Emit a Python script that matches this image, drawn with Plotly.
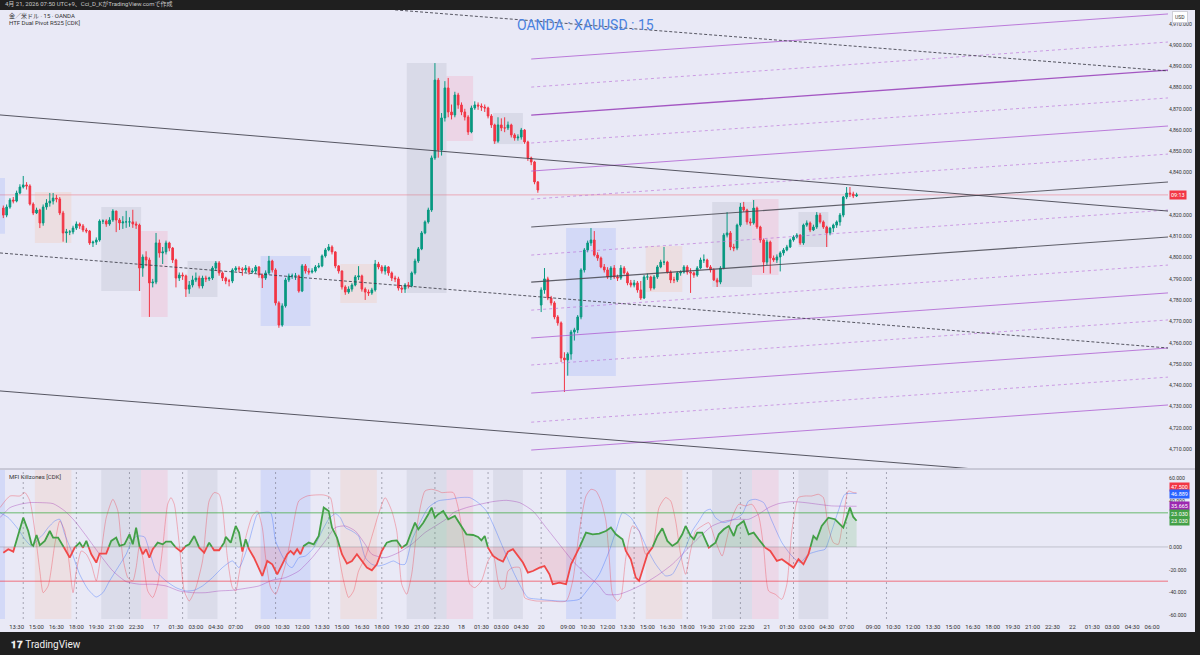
import plotly.graph_objects as go

# ---------------- candle data (15-minute bars, index 0 = Apr16 13:30 JST) ----------------
first_bar = -4
opens_pre = [4823.3, 4820.0, 4823.8, 4827.1, 4826.6, 4830.4, 4833.2, 4834.2, 4833.7, 4825.2,
             4821.0, 4822.4, 4816.3, 4823.8, 4825.7, 4826.6, 4828.0, 4827.6, 4821.0, 4811.6,
             4812.1, 4812.1, 4813.9, 4815.8, 4814.9, 4813.0, 4812.5, 4806.9, 4807.3, 4808.3,
             4817.2, 4817.2, 4815.8, 4817.7, 4821.9, 4817.7, 4816.3, 4816.8, 4816.8, 4816.8,
             4815.8, 4815.3, 4795.1, 4800.3, 4798.9, 4788.1, 4788.5, 4806.9, 4802.2, 4802.7,
             4806.9, 4804.5, 4798.9, 4790.4, 4791.8, 4791.4, 4785.2, 4787.1, 4789.5, 4790.4,
             4786.7, 4790.4, 4790.0, 4790.4, 4795.1, 4797.5, 4792.8, 4790.4, 4789.0, 4789.0,
             4794.2, 4795.1, 4794.7, 4794.2, 4795.1, 4793.2, 4793.7, 4795.6, 4791.8, 4790.4,
             4792.8, 4798.4, 4794.2, 4778.7, 4768.3, 4777.3, 4789.5, 4791.4, 4791.4, 4791.4,
             4784.3, 4796.1, 4793.7, 4793.2, 4793.7, 4795.6, 4796.1, 4800.8, 4803.6, 4805.0,
             4802.7, 4796.1, 4793.7, 4786.2, 4783.8, 4785.2, 4787.1, 4790.9, 4791.4, 4785.2,
             4783.8, 4783.4, 4784.8, 4797.0, 4795.6, 4793.7, 4795.6, 4792.8, 4790.4, 4790.0,
             4785.7, 4785.2, 4787.1, 4786.7, 4792.8, 4798.4, 4804.1, 4811.6, 4816.8, 4822.4,
             4846.9, 4883.5, 4850.6, 4865.7, 4879.8, 4868.5, 4867.1, 4876.5, 4871.8, 4868.5,
             4866.1, 4859.1, 4870.4, 4871.8, 4871.3, 4870.8, 4870.4, 4866.6, 4862.4, 4854.8,
             4862.4, 4861.0, 4861.0, 4862.4, 4857.7, 4856.3, 4856.7, 4860.0, 4854.4, 4846.9,
             4845.0, 4835.6]
highs_pre = [4824.5, 4825.0, 4828.0, 4828.5, 4831.5, 4834.5, 4838.4, 4835.5, 4834.5, 4826.0,
             4823.5, 4823.0, 4825.0, 4827.5, 4830.4, 4830.4, 4829.5, 4828.5, 4822.0, 4813.5,
             4813.0, 4815.0, 4817.0, 4816.5, 4815.8, 4814.0, 4813.0, 4808.0, 4809.5, 4818.0,
             4818.0, 4818.0, 4819.0, 4822.8, 4822.0, 4818.6, 4819.5, 4822.0, 4819.0, 4822.5,
             4817.0, 4816.0, 4801.5, 4803.0, 4800.0, 4790.0, 4811.6, 4808.5, 4805.0, 4808.0,
             4807.5, 4805.0, 4799.5, 4793.0, 4793.0, 4792.0, 4789.0, 4791.5, 4793.0, 4791.5,
             4791.5, 4791.5, 4791.0, 4796.0, 4798.4, 4798.4, 4793.5, 4791.0, 4790.0, 4795.0,
             4796.0, 4796.0, 4795.5, 4796.5, 4796.0, 4795.0, 4796.5, 4796.0, 4792.5, 4794.0,
             4800.8, 4799.0, 4795.0, 4779.5, 4778.5, 4790.5, 4792.5, 4792.5, 4792.8, 4792.0,
             4797.0, 4797.0, 4795.0, 4795.0, 4796.5, 4797.5, 4801.5, 4804.5, 4806.4, 4805.8,
             4803.0, 4796.5, 4794.0, 4787.0, 4786.5, 4788.0, 4791.8, 4796.0, 4792.0, 4786.0,
             4785.0, 4785.8, 4798.9, 4798.0, 4796.5, 4796.5, 4796.0, 4793.5, 4791.5, 4791.0,
             4787.0, 4788.0, 4788.5, 4793.5, 4799.5, 4805.0, 4812.5, 4817.5, 4823.5, 4848.0,
             4891.5, 4884.5, 4868.0, 4883.0, 4884.5, 4872.0, 4878.0, 4877.5, 4873.0, 4870.0,
             4867.0, 4871.5, 4873.5, 4873.0, 4872.5, 4872.0, 4871.0, 4867.5, 4863.0, 4866.0,
             4865.5, 4866.0, 4864.0, 4863.0, 4858.5, 4858.0, 4861.0, 4860.5, 4855.0, 4847.5,
             4845.5, 4836.0]
lows_pre = [4818.6, 4819.0, 4823.0, 4825.5, 4826.0, 4829.8, 4832.5, 4832.0, 4824.5, 4820.0,
            4820.5, 4813.9, 4815.0, 4822.5, 4824.0, 4825.0, 4826.0, 4820.0, 4807.5, 4807.0,
            4810.6, 4811.0, 4813.0, 4813.5, 4812.0, 4811.5, 4806.0, 4805.0, 4806.0, 4807.5,
            4815.8, 4814.5, 4815.0, 4816.8, 4812.0, 4813.0, 4813.5, 4814.0, 4814.5, 4814.0,
            4813.5, 4784.3, 4791.0, 4796.0, 4772.1, 4786.0, 4787.5, 4800.0, 4797.0, 4801.5,
            4803.0, 4797.5, 4786.0, 4789.0, 4789.5, 4781.5, 4783.0, 4786.0, 4788.5, 4785.5,
            4785.5, 4788.5, 4789.0, 4789.5, 4794.0, 4791.5, 4789.0, 4787.5, 4786.5, 4788.0,
            4793.5, 4793.0, 4791.5, 4793.0, 4792.0, 4792.5, 4792.5, 4790.5, 4785.7, 4789.5,
            4792.0, 4793.0, 4777.5, 4767.0, 4767.5, 4776.5, 4788.5, 4790.0, 4789.5, 4783.5,
            4783.8, 4792.5, 4792.0, 4792.5, 4793.0, 4795.0, 4795.5, 4800.0, 4803.0, 4801.5,
            4795.0, 4792.5, 4785.0, 4782.5, 4783.0, 4784.0, 4786.5, 4789.5, 4784.0, 4780.1,
            4782.0, 4782.5, 4784.0, 4794.5, 4792.5, 4792.0, 4791.5, 4789.0, 4788.5, 4784.5,
            4783.4, 4783.4, 4785.5, 4786.0, 4792.0, 4797.5, 4803.5, 4811.0, 4816.0, 4821.5,
            4846.0, 4847.0, 4848.0, 4864.0, 4866.0, 4865.0, 4866.0, 4870.0, 4867.0, 4864.5,
            4857.7, 4858.5, 4869.5, 4869.5, 4869.0, 4868.5, 4865.5, 4861.0, 4853.5, 4854.0,
            4859.5, 4859.0, 4860.0, 4856.5, 4855.0, 4855.0, 4855.5, 4853.5, 4845.5, 4843.5,
            4834.5, 4830.5]
closes_pre = [4820.0, 4823.8, 4827.1, 4826.6, 4830.4, 4833.2, 4834.2, 4833.7, 4825.2, 4821.0,
              4822.4, 4816.3, 4823.8, 4825.7, 4826.6, 4828.0, 4827.6, 4821.0, 4811.6, 4812.1,
              4812.1, 4813.9, 4815.8, 4814.9, 4813.0, 4812.5, 4806.9, 4807.3, 4808.3, 4817.2,
              4817.2, 4815.8, 4817.7, 4821.9, 4817.7, 4816.3, 4816.8, 4816.8, 4816.8, 4815.8,
              4815.3, 4795.1, 4800.3, 4798.9, 4788.1, 4788.5, 4806.9, 4802.2, 4802.7, 4806.9,
              4804.5, 4798.9, 4790.4, 4791.8, 4791.4, 4785.2, 4787.1, 4789.5, 4790.4, 4786.7,
              4790.4, 4790.0, 4790.4, 4795.1, 4797.5, 4792.8, 4790.4, 4789.0, 4789.0, 4794.2,
              4795.1, 4794.7, 4794.2, 4795.1, 4793.2, 4793.7, 4795.6, 4791.8, 4790.4, 4792.8,
              4798.4, 4794.2, 4778.7, 4768.3, 4777.3, 4789.5, 4791.4, 4791.4, 4791.4, 4784.3,
              4796.1, 4793.7, 4793.2, 4793.7, 4795.6, 4796.1, 4800.8, 4803.6, 4805.0, 4802.7,
              4796.1, 4793.7, 4786.2, 4783.8, 4785.2, 4787.1, 4790.9, 4791.4, 4785.2, 4783.8,
              4783.4, 4784.8, 4797.0, 4795.6, 4793.7, 4795.6, 4792.8, 4790.4, 4790.0, 4785.7,
              4785.2, 4787.1, 4786.7, 4792.8, 4798.4, 4804.1, 4811.6, 4816.8, 4822.4, 4846.9,
              4883.5, 4850.6, 4865.7, 4879.8, 4868.5, 4867.1, 4876.5, 4871.8, 4868.5, 4866.1,
              4859.1, 4870.4, 4871.8, 4871.3, 4870.8, 4870.4, 4866.6, 4862.4, 4854.8, 4862.4,
              4861.0, 4861.0, 4862.4, 4857.7, 4856.3, 4856.7, 4860.0, 4854.4, 4846.9, 4845.0,
              4835.6, 4831.8]

opens_mon = [4777.7, 4784.8, 4790.0, 4781.0, 4778.7, 4772.1, 4769.3, 4752.8, 4751.9, 4754.7,
             4765.0, 4766.0, 4772.1, 4794.2, 4803.6, 4806.9, 4808.3, 4801.2, 4799.8, 4795.6,
             4794.2, 4790.9, 4795.1, 4790.9, 4790.4, 4795.1, 4792.8, 4788.1, 4787.1, 4788.1,
             4784.8, 4781.0, 4790.9, 4790.9, 4785.7, 4790.9, 4795.6, 4797.9, 4797.9, 4793.2,
             4789.5, 4789.5, 4792.8, 4793.2, 4795.6, 4793.2, 4792.8, 4791.8, 4795.1, 4798.9,
             4798.9, 4795.6, 4794.2, 4789.5, 4788.5, 4795.1, 4810.6, 4811.6, 4805.0, 4804.5,
             4815.3, 4823.8, 4822.4, 4816.8, 4816.3, 4823.3, 4814.4, 4808.3, 4797.9, 4807.3,
             4799.8, 4798.9, 4800.3, 4802.2, 4803.6, 4805.0, 4808.3, 4809.7, 4810.6, 4806.9,
             4815.3, 4816.3, 4813.0, 4814.4, 4820.0, 4816.8, 4814.4, 4811.6, 4813.9, 4815.3,
             4816.8, 4820.0, 4828.5, 4830.4, 4829.9, 4829.0]
highs_mon = [4786.0, 4795.1, 4791.0, 4782.0, 4779.5, 4773.0, 4770.0, 4755.5, 4755.5, 4766.0,
             4767.0, 4773.0, 4795.0, 4804.5, 4808.0, 4813.9, 4812.5, 4802.5, 4800.5, 4797.0,
             4795.5, 4796.0, 4796.5, 4792.0, 4796.5, 4796.0, 4793.5, 4789.5, 4789.5, 4789.0,
             4789.0, 4791.8, 4792.5, 4791.5, 4791.8, 4796.5, 4799.0, 4805.0, 4798.5, 4794.0,
             4791.0, 4793.5, 4794.0, 4796.5, 4796.5, 4795.0, 4793.5, 4796.0, 4800.0, 4801.5,
             4799.5, 4796.5, 4795.0, 4790.5, 4796.0, 4811.5, 4821.4, 4812.5, 4806.5, 4816.0,
             4825.7, 4826.2, 4823.0, 4818.5, 4827.1, 4824.0, 4815.0, 4809.0, 4808.5, 4808.0,
             4801.0, 4801.5, 4803.0, 4804.5, 4806.0, 4809.0, 4810.5, 4811.5, 4811.0, 4816.0,
             4817.5, 4817.0, 4815.5, 4821.4, 4821.0, 4817.5, 4815.0, 4814.5, 4816.0, 4817.5,
             4821.0, 4829.0, 4833.2, 4833.2, 4831.0, 4830.5]
lows_mon = [4774.4, 4783.0, 4780.0, 4777.5, 4771.0, 4768.0, 4750.9, 4736.8, 4744.5, 4752.0,
            4761.0, 4764.5, 4771.0, 4793.0, 4802.5, 4805.5, 4800.5, 4798.5, 4795.0, 4793.0,
            4790.0, 4789.5, 4790.0, 4789.0, 4789.5, 4792.0, 4787.0, 4786.0, 4786.0, 4783.5,
            4780.1, 4780.5, 4789.5, 4784.5, 4785.0, 4790.0, 4795.0, 4796.5, 4792.5, 4788.0,
            4788.0, 4788.5, 4791.5, 4792.5, 4792.0, 4783.4, 4790.5, 4791.0, 4794.5, 4797.5,
            4795.0, 4793.0, 4789.0, 4786.2, 4787.5, 4794.5, 4809.5, 4803.5, 4803.0, 4803.5,
            4814.5, 4821.5, 4815.5, 4815.0, 4815.5, 4813.5, 4807.0, 4792.8, 4796.5, 4792.5,
            4798.0, 4797.5, 4793.5, 4801.0, 4803.0, 4804.5, 4807.5, 4809.0, 4806.0, 4806.0,
            4814.5, 4812.0, 4812.5, 4813.5, 4816.0, 4813.5, 4805.0, 4810.5, 4812.0, 4814.0,
            4815.0, 4819.0, 4827.5, 4828.5, 4828.0, 4828.5]
closes_mon = [4784.8, 4790.0, 4781.0, 4778.7, 4772.1, 4769.3, 4752.8, 4751.9, 4754.7, 4765.0,
              4766.0, 4772.1, 4794.2, 4803.6, 4806.9, 4808.3, 4801.2, 4799.8, 4795.6, 4794.2,
              4790.9, 4795.1, 4790.9, 4790.4, 4795.1, 4792.8, 4788.1, 4787.1, 4788.1, 4784.8,
              4781.0, 4790.9, 4790.9, 4785.7, 4790.9, 4795.6, 4797.9, 4797.9, 4793.2, 4789.5,
              4789.5, 4792.8, 4793.2, 4795.6, 4793.2, 4792.8, 4791.8, 4795.1, 4798.9, 4798.9,
              4795.6, 4794.2, 4789.5, 4788.5, 4795.1, 4810.6, 4811.6, 4805.0, 4804.5, 4815.3,
              4823.8, 4822.4, 4816.8, 4816.3, 4823.3, 4814.4, 4808.3, 4797.9, 4807.3, 4799.8,
              4798.9, 4800.3, 4802.2, 4803.6, 4805.0, 4808.3, 4809.7, 4810.6, 4806.9, 4815.3,
              4816.3, 4813.0, 4814.4, 4820.0, 4816.8, 4814.4, 4811.6, 4813.9, 4815.3, 4816.8,
              4820.0, 4828.5, 4830.4, 4829.9, 4829.0, 4829.5]

# ---------------- killzone sessions ----------------
session_start = [-20, 6, 26, 38, 52, 74, 98, 118, 130, 144, 166, 190, 210, 222, 236]
session_end = [-4, 16, 37, 45, 60, 88, 108, 129, 137, 152, 180, 200, 221, 229, 244]
session_high = [4837.4, 4830.9, 4823.8, 4812.5, 4798.4, 4800.8, 4797.0, 4891.5, 4885.4, 4868.0,
                4813.9, 4805.5, 4826.2, 4827.6, 4821.4]
session_low = [4811.2, 4806.9, 4784.3, 4772.1, 4781.5, 4767.8, 4778.7, 4783.4, 4854.8, 4853.4,
               4744.3, 4783.8, 4786.2, 4791.8, 4805.0]
session_kind = ["asia", "london", "nyam", "lunch", "nypm",
                "asia", "london", "nyam", "lunch", "nypm",
                "asia", "london", "nyam", "lunch", "nypm"]

# ---------------- trend / channel lines (bar index, price) ----------------
trend_x0 = [-5.0, -5.0, -5.0, 114.0]
trend_p0 = [4867.1, 4737.3, 4802.2, 4916.5]
trend_x1 = [346.8, 346.8, 346.8, 346.8]
trend_p1 = [4821.9, 4693.3, 4757.5, 4887.8]
trend_kind = ["solid", "solid", "dot", "dot"]

# HTF pivot levels (sloped), start at bar 155, end at right edge
pivot_x0 = 155.0
pivot_x1 = 346.8
pivot_start = [4893.4, 4880.2, 4867.0, 4853.9, 4840.7, 4827.5, 4814.4, 4801.2, 4788.5, 4775.3,
               4762.2, 4749.5, 4736.3, 4722.6, 4709.5]
pivot_end = [4914.6, 4901.4, 4888.2, 4875.1, 4861.9, 4848.7, 4835.6, 4822.4, 4809.7, 4796.5,
             4783.4, 4770.7, 4757.5, 4743.8, 4730.7]

# ---------------- MFI Killzones oscillator ----------------
mfi_idx = [-4, -2.5, -1, 0.5, 2, 3.5, 4.5, 5, 6, 7,
           8.5, 10, 11, 12.5, 14, 16, 17.5, 19, 20, 21,
           22.5, 24, 25, 27, 28.5, 30, 31, 32.5, 34, 35,
           36, 37, 38, 39, 40, 41, 42.5, 44, 45, 46.5,
           48, 49.5, 51, 52, 53.5, 55, 56.5, 58, 59.5, 61,
           62.5, 63, 64.5, 66, 67, 68, 69, 70, 71.5, 74,
           75.5, 77, 78.5, 80, 81.5, 82.5, 83.5, 84.5, 85.5, 86.5,
           88, 89.5, 91, 92.5, 94, 95, 96.5, 98, 99.5, 101,
           102.5, 104, 105.5, 107, 108.5, 110, 111.5, 113, 114.5, 116,
           117.5, 119, 120, 121, 122.5, 124, 125, 126, 127, 128.5,
           130, 132, 133.5, 135.5, 137.5, 139, 140, 141, 142, 143.5,
           145, 146.5, 148, 149.5, 151, 152.5, 154, 155.5, 157.5, 159,
           160.5, 161.5, 163.5, 165.5, 167, 169.5, 171.5, 173.5, 175.5, 177.5,
           179, 180.5, 182.5, 183.5, 185, 186.5, 187.5, 189, 190, 191.5,
           193, 194.5, 196, 197.5, 199, 200.5, 201.5, 203, 204, 205,
           206.5, 208.5, 210.5, 211.5, 213, 214.5, 216, 217, 219, 220.5,
           222, 223.5, 225.5, 227, 229, 230.5, 232.5, 234, 235.5, 237,
           238.5, 240, 241, 242.5, 244.5, 246.5, 249, 251, 252, 253]
mfi_val = [-5.0, -2.0, -4.1, 11.1, 25.7, 14.0, 2.3, 0.9, 10.5, 1.5,
           5.3, 14.0, 8.2, 8.2, 0.9, -9.4, -0.6, 3.8, -0.6, 5.3,
           -6.4, -13.7, -5.8, -5.8, 5.3, 8.2, 0.9, 2.3, 11.1, 2.3,
           17.0, 0.9, -6.4, -2.0, -9.4, -2.0, 3.8, 2.3, 4.7, 4.7,
           -0.6, -4.1, 0.9, 2.3, 9.6, -0.6, -5.0, 3.8, -2.9, -2.9,
           3.8, 8.8, 3.8, 18.4, 12.6, -4.1, 6.7, -2.0, -9.4, -25.4,
           -12.3, -15.2, -24.0, -15.2, -6.4, -3.5, -6.4, -2.0, -6.4, 0.9,
           3.8, 2.3, 9.6, 34.5, 31.6, 17.0, 8.2, -6.4, -14.6, -12.3,
           -6.4, -12.3, -18.1, -20.5, -15.2, -3.5, 3.8, 5.3, 5.8, -0.6,
           2.3, 14.0, 21.3, 15.5, 21.3, 28.7, 34.5, 25.7, 28.7, 31.6,
           24.3, 27.2, 19.9, 11.1, 10.5, 8.8, 5.8, 9.6, -0.6, -7.9,
           -10.8, -12.9, -4.1, -2.0, -7.9, -13.7, -22.5, -21.1, -18.1, -16.7,
           -24.0, -32.7, -31.3, -32.7, -15.2, -0.6, 12.6, 11.1, 11.7, 14.0,
           17.0, 11.1, 6.7, -3.5, -10.8, -26.9, -29.8, -15.2, -6.4, -0.6,
           9.6, 16.4, 5.3, 0.9, 3.8, 11.1, 18.4, 9.6, 6.7, 12.6,
           12.6, -0.6, 3.8, 11.1, 15.5, 18.4, 9.6, 18.4, 22.8, 11.1,
           12.6, 6.7, -0.6, -3.5, -12.3, -10.8, -15.2, -18.1, -10.8, -15.2,
           -6.4, 9.6, 6.7, 18.4, 25.7, 24.3, 17.0, 34.5, 26.3, 23.0]

fast_idx = [-5, -2, 1, 2.5, 4, 5.5, 7, 8, 9.5, 11.5,
            13, 14.5, 16, 17, 18, 19.5, 21, 22.5, 24, 25,
            27, 29, 30.5, 32, 33.5, 35, 36, 37, 38, 39.5,
            41, 42.5, 44, 45.5, 46.5, 47.5, 49, 50.5, 52, 54,
            56, 58, 59.5, 61, 62, 63.5, 65, 66, 67, 69,
            71, 72.5, 74, 75, 76.5, 78, 79.5, 81, 83, 85,
            87.5, 90, 92.5, 94.5, 95.5, 97, 98.5, 100, 101.5, 103,
            105, 107.5, 109, 111, 113, 114.5, 116, 117.5, 119, 121,
            123, 125, 127, 128, 131.5, 133, 135, 136.5, 138, 140,
            142, 143.5, 145, 146, 147, 148, 149.5, 151.5, 153, 154,
            156.5, 160.5, 165.5, 167.5, 169.5, 171.5, 173, 174.5, 176, 177.5,
            178.5, 179.5, 181, 182, 183.5, 185.5, 187.5, 189.5, 191.5, 193.5,
            195.5, 197, 198.5, 200, 201.5, 203, 204.5, 206.5, 208.5, 210.5,
            212.5, 214, 215.5, 217.5, 219.5, 221.5, 223.5, 225, 226.5, 228.5,
            230.5, 232, 233.5, 235.5, 237.5, 239.5, 241.5, 243, 244.5, 246,
            247.5, 249, 250.5, 252, 253]
fast_val = [34.5, 44.7, 44.7, 47.7, 40.4, 14.0, -21.1, -40.1, -34.2, 2.3,
            22.8, 14.0, -18.1, -40.1, -21.1, -3.5, -6.4, -15.2, -29.8, -15.2,
            25.7, 41.8, 31.6, -9.4, -26.9, -29.8, -18.1, 0.9, -9.4, -38.6,
            -44.4, -32.7, -0.6, 37.4, 43.3, 37.4, 2.3, -38.6, -47.4, -35.7,
            -12.3, 40.4, 47.7, 46.2, 34.5, -9.4, -35.7, -38.6, -24.0, 8.2,
            27.2, 31.6, 17.0, -9.4, -35.7, -41.5, -29.8, -15.2, 14.0, 40.4,
            44.7, 45.6, 45.6, 43.3, 28.7, -6.4, -29.8, -44.4, -38.6, -21.1,
            -9.4, 14.0, 28.7, 43.3, 31.6, 14.0, -32.7, -41.5, -24.0, 25.7,
            49.1, 50.6, 49.1, 47.7, 47.7, 34.5, -0.6, -32.7, -35.7, -29.8,
            -12.3, -6.4, -29.8, -37.1, -35.7, -21.1, -18.1, -18.1, -44.4, -45.9,
            -47.4, -47.4, -47.4, -29.8, 14.0, 44.7, 50.6, 49.1, 40.4, 22.8,
            -9.4, -41.5, -47.4, -44.4, -9.4, 18.4, 14.0, -6.4, -0.6, 34.5,
            43.3, 40.4, 22.8, -6.4, -24.0, -3.5, 14.0, 18.4, 21.3, 5.3,
            -7.9, 8.2, 25.7, 37.4, 36.0, 37.4, 27.2, -0.6, -38.6, -41.5,
            -45.9, -32.7, 14.0, 43.3, 44.7, 44.7, 46.2, 43.3, 17.0, 3.8,
            2.3, 25.7, 49.1, 47.7, 47.5]

mid_idx = [-5, -2.5, 0.5, 2.5, 4.5, 6.5, 8, 9.5, 11.5, 13,
           14.5, 16.5, 19, 21.5, 24, 26, 28, 30.5, 33, 35,
           36.5, 38.5, 40, 42, 45, 48, 51, 53.5, 56, 59,
           62, 65, 67, 69.5, 71, 72.5, 74, 76.5, 78, 80,
           82, 83, 85, 87, 89.5, 92, 94, 96, 97.5, 99,
           101, 103, 105, 107, 109, 111, 113.5, 115.5, 117, 119,
           121, 124, 127, 130.5, 133.5, 136.5, 139, 141.5, 143.5, 146.5,
           149.5, 152, 154, 157.5, 160.5, 163.5, 166, 169.5, 172.5, 175.5,
           178.5, 180.5, 182.5, 185, 187.5, 190, 192.5, 195.5, 197.5, 199.5,
           201.5, 203.5, 205.5, 207.5, 209, 210.5, 213, 216, 218.5, 220.5,
           222.5, 225, 227.5, 230.5, 233.5, 236, 238.5, 241.5, 243.5, 245.5,
           247.5, 249.5, 253]
mid_val = [30.1, 25.7, 15.5, 6.7, 0.9, 6.7, 11.1, 17.0, 22.8, 24.3,
           11.1, -3.5, -24.0, -37.1, -43.9, -40.1, -29.8, -18.1, -6.4, 6.7,
           9.6, 8.8, -3.5, -21.1, -29.8, -35.7, -38.6, -38.0, -34.2, -26.9,
           -18.1, -12.3, -18.1, -0.6, 15.5, 28.7, 30.1, 30.1, 5.3, -7.9,
           -16.7, -18.1, -9.4, -7.9, -0.6, 14.0, 24.3, 29.2, 25.7, 17.0,
           14.0, 9.6, -9.4, -15.2, -16.7, -15.2, -12.3, -15.2, -15.2, 5.3,
           18.4, 34.5, 40.4, 41.8, 43.3, 43.3, 38.9, 31.6, 19.9, -0.6,
           -21.1, -35.7, -44.4, -45.9, -46.8, -47.4, -47.4, -45.9, -35.7, -24.0,
           -3.5, 14.0, 30.1, 25.7, 14.0, -2.0, -15.2, -25.4, -24.0, -13.7,
           -0.6, 14.0, 22.8, 31.6, 33.0, 25.7, 21.3, 24.3, 28.7, 40.4,
           41.8, 38.9, 22.8, 3.8, -7.9, -13.7, -6.4, -3.5, -2.0, 14.0,
           31.6, 46.2, 46.9]

slow_idx = [-5, -2, 1, 4, 7, 11, 14.5, 17.5, 21, 25,
            29, 33, 37, 41, 45, 49, 53, 57, 61, 65,
            69, 73, 77, 81, 85, 89, 93, 96, 99, 102,
            105, 107, 111, 115, 119, 123, 127, 130, 131.5, 135.5,
            139.5, 143.5, 147.5, 151.5, 155.5, 159.5, 163.5, 167.5, 171.5, 175.5,
            177.5, 181.5, 185.5, 189.5, 193.5, 197.5, 201.5, 205.5, 209.5, 213.5,
            217.5, 220.5, 223.5, 226.5, 229.5, 233.5, 237.5, 241.5, 245.5, 253]
slow_val = [25.7, 34.5, 37.4, 38.9, 38.9, 38.0, 31.6, 22.8, 9.6, -6.4,
            -21.1, -30.4, -32.7, -32.7, -34.2, -38.6, -40.1, -40.1, -38.6, -38.0,
            -36.3, -34.2, -29.2, -26.9, -21.1, -9.4, 5.3, 17.0, 18.4, 14.0,
            2.3, -6.4, -9.4, -5.0, 2.3, 12.6, 19.9, 25.7, 30.1, 34.5,
            37.4, 39.8, 40.9, 38.9, 31.6, 17.0, 2.3, -12.3, -24.0, -34.2,
            -41.5, -41.5, -37.1, -31.3, -24.0, -15.2, -3.5, 8.2, 18.4, 22.8,
            24.3, 24.3, 28.7, 34.5, 38.0, 39.8, 38.9, 37.4, 36.0, 35.7]

mfi_upper = 30
mfi_lower = -30
last_values = ["47.500", "46.889", "35.665", "23.030", "23.030"]
osc_ticks = [-60, -40, -20, 0, 40, 60]
price_ticks = [4710, 4720, 4730, 4740, 4750, 4760, 4770, 4780, 4790, 4800,
               4810, 4820, 4840, 4850, 4860, 4870, 4880, 4890, 4900, 4910]

# session separators (bar index)
separator_idx = [2, 18, 34, 50, 66, 78, 94, 110, 126, 142, 158, 170, 186, 202, 218, 234, 250, 262]

# time axis labels
tick_idx = [0, 6, 12, 18, 24, 30, 36, 42, 48, 54, 60, 66, 74, 80, 86, 92, 98, 104, 110, 116, 122, 128,
            134, 140, 146, 152, 158, 166, 172, 178, 184, 190, 196, 202, 208, 214, 220, 226, 232, 238,
            244, 250, 258, 264, 270, 276, 282, 288, 294, 300, 306, 312, 318, 324, 330, 336, 342]
tick_text = ["13:30", "15:00", "16:30", "18:00", "19:30", "21:00", "22:30", "17", "01:30", "03:00",
             "04:30", "07:00", "09:00", "10:30", "12:00", "13:30", "15:00", "16:30", "18:00", "19:30",
             "21:00", "22:30", "18", "01:30", "03:00", "04:30", "20", "09:00", "10:30", "12:00",
             "13:30", "15:00", "16:30", "18:00", "19:30", "21:00", "22:30", "21", "01:30", "03:00",
             "04:30", "07:00", "09:00", "10:30", "12:00", "13:30", "15:00", "16:30", "18:00", "19:30",
             "21:00", "22:30", "22", "01:30", "03:00", "04:30", "06:00"]

# ====================================================================================
W, H = 1200, 655
ML, MR, MT, MB = 0, 32, 10, 36
PW, PH = W - ML - MR, H - MT - MB          # plot area 1168 x 609


def px(xp):
    return (xp - ML) / PW


def py(yp):
    return (H - MB - yp) / PH


BG = "#e9e9f6"
DARK = "#1f1f1f"
FONT = "Roboto, 'Noto Sans CJK JP', sans-serif"

opens = opens_pre + opens_mon
highs = highs_pre + highs_mon
lows = lows_pre + lows_mon
closes = closes_pre + closes_mon
bars = list(range(first_bar, first_bar + len(closes)))

fig = go.Figure()

# --- pivot / trend lines in price pane ---
for k in range(len(pivot_start)):
    if k in (6, 8):
        col, dash, wid = "rgba(70,70,80,0.85)", "solid", 1.1
    elif k % 2 == 0:
        col, dash, wid = ("rgba(150,60,185,0.85)", "solid", 1.4) if k == 2 else ("rgba(175,95,210,0.8)", "solid", 1.0)
    else:
        col, dash, wid = "rgba(185,110,215,0.7)", "3px,3px", 0.9
    fig.add_trace(go.Scatter(x=[pivot_x0, pivot_x1], y=[pivot_start[k], pivot_end[k]], mode="lines",
                             line=dict(color=col, width=wid, dash=dash), hoverinfo="skip",
                             showlegend=False, xaxis="x", yaxis="y"))
for k in range(len(trend_x0)):
    dash = "solid" if trend_kind[k] == "solid" else "3px,2px"
    fig.add_trace(go.Scatter(x=[trend_x0[k], trend_x1[k]], y=[trend_p0[k], trend_p1[k]], mode="lines",
                             line=dict(color="rgba(60,60,72,0.85)", width=1, dash=dash), hoverinfo="skip",
                             showlegend=False, xaxis="x", yaxis="y"))

# --- candles ---
fig.add_trace(go.Candlestick(x=bars, open=opens, high=highs, low=lows, close=closes,
                             increasing=dict(line=dict(color="#089981", width=1), fillcolor="#089981"),
                             decreasing=dict(line=dict(color="#f23645", width=1), fillcolor="#f23645"),
                             whiskerwidth=0, showlegend=False, hoverinfo="skip", xaxis="x", yaxis="y"))

# --- oscillator thin lines ---
for xs, vs, col in [(fast_idx, fast_val, "rgba(242,54,69,0.35)"),
                    (mid_idx, mid_val, "rgba(41,98,255,0.35)"),
                    (slow_idx, slow_val, "rgba(156,39,176,0.35)")]:
    fig.add_trace(go.Scatter(x=xs, y=vs, mode="lines", line=dict(color=col, width=1, shape="spline", smoothing=0.6),
                             hoverinfo="skip", showlegend=False, xaxis="x", yaxis="y2"))

# --- main MFI line split by sign ---
sx, sv = [], []
for k in range(len(mfi_idx)):
    if k > 0 and (mfi_val[k - 1] < 0) != (mfi_val[k] < 0):
        t = mfi_val[k - 1] / (mfi_val[k - 1] - mfi_val[k])
        sx.append(mfi_idx[k - 1] + t * (mfi_idx[k] - mfi_idx[k - 1]))
        sv.append(0.0)
    sx.append(mfi_idx[k])
    sv.append(mfi_val[k])
pos_fill = [max(v, 0) for v in sv]
neg_fill = [min(v, 0) for v in sv]
pos_line = [v if v >= 0 else None for v in sv]
neg_line = [v if v <= 0 else None for v in sv]
fig.add_trace(go.Scatter(x=sx, y=pos_fill, mode="lines", line=dict(width=0), fill="tozeroy",
                         fillcolor="rgba(76,175,80,0.17)", hoverinfo="skip", showlegend=False, xaxis="x", yaxis="y2"))
fig.add_trace(go.Scatter(x=sx, y=neg_fill, mode="lines", line=dict(width=0), fill="tozeroy",
                         fillcolor="rgba(242,54,69,0.14)", hoverinfo="skip", showlegend=False, xaxis="x", yaxis="y2"))
fig.add_trace(go.Scatter(x=sx, y=pos_line, mode="lines", line=dict(color="#43a047", width=1.8),
                         connectgaps=False, hoverinfo="skip", showlegend=False, xaxis="x", yaxis="y2"))
fig.add_trace(go.Scatter(x=sx, y=neg_line, mode="lines", line=dict(color="#f04848", width=1.8),
                         connectgaps=False, hoverinfo="skip", showlegend=False, xaxis="x", yaxis="y2"))

shapes = []
# background of chart area (incl. axes strips)
shapes.append(dict(type="rect", xref="paper", yref="paper", x0=px(0), x1=px(1195), y0=py(632), y1=py(10),
                   fillcolor=BG, line=dict(width=0), layer="below"))

kind_price = {"asia": "rgba(90,130,255,0.15)", "london": "rgba(255,170,120,0.16)",
              "nyam": "rgba(140,150,165,0.17)", "lunch": "rgba(255,110,150,0.16)",
              "nypm": "rgba(140,150,165,0.17)"}
kind_osc = {"asia": "rgba(90,130,255,0.15)", "london": "rgba(255,170,120,0.15)",
            "nyam": "rgba(140,150,165,0.15)", "lunch": "rgba(255,110,150,0.14)",
            "nypm": "rgba(140,150,165,0.15)"}
for k in range(len(session_start)):
    x0 = session_start[k] - 0.5
    x1 = session_end[k] + 0.5
    shapes.append(dict(type="rect", xref="x", yref="y", x0=x0, x1=x1, y0=session_low[k], y1=session_high[k],
                       fillcolor=kind_price[session_kind[k]], line=dict(width=0), layer="below"))
    shapes.append(dict(type="rect", xref="x", yref="y2 domain", x0=x0, x1=x1, y0=0, y1=1,
                       fillcolor=kind_osc[session_kind[k]], line=dict(width=0), layer="below"))
for s in separator_idx:
    shapes.append(dict(type="line", xref="x", yref="y2 domain", x0=s, x1=s, y0=0, y1=1,
                       line=dict(color="rgba(110,110,125,0.55)", width=1, dash="2px,3px"), layer="below"))
# level lines in oscillator
for lv, col, wd in [(mfi_upper, "rgba(76,175,80,0.55)", 1.5), (mfi_lower, "rgba(242,54,69,0.45)", 1.5),
                    (0, "rgba(120,123,134,0.35)", 1)]:
    shapes.append(dict(type="line", xref="x domain", yref="y2", x0=0, x1=1, y0=lv, y1=lv,
                       line=dict(color=col, width=wd), layer="above"))
# current price line
shapes.append(dict(type="line", xref="x domain", yref="y", x0=0, x1=1, y0=closes[-1], y1=closes[-1],
                   line=dict(color="rgba(242,54,69,0.35)", width=1), layer="below"))
# pane separator
shapes.append(dict(type="line", xref="paper", yref="paper", x0=px(0), x1=px(1195), y0=py(469), y1=py(469),
                   line=dict(color="#a8a8b8", width=1)))

annotations = []
small = dict(family=FONT, size=6, color="#333")
annotations.append(dict(xref="paper", yref="paper", x=px(3), y=py(4.5), xanchor="left", yanchor="middle",
                        text="4月 21, 2026 07:50 UTC+9、Cci_D_KがTradingView.comで作成", showarrow=False,
                        font=dict(family=FONT, size=6, color="#c8c8c8")))
annotations.append(dict(xref="paper", yref="paper", x=px(7), y=py(16), xanchor="left", yanchor="middle",
                        text="金／米ドル · 15 · OANDA", showarrow=False, font=small))
annotations.append(dict(xref="paper", yref="paper", x=px(7), y=py(23), xanchor="left", yanchor="middle",
                        text="HTF Dual Pivot R525 [CDK]", showarrow=False, font=small))
annotations.append(dict(xref="paper", yref="paper", x=px(7), y=py(476.5), xanchor="left", yanchor="middle",
                        text="MFI Killzones [CDK]", showarrow=False, font=small))
annotations.append(dict(xref="paper", yref="paper", x=px(585), y=py(25), xanchor="center", yanchor="middle",
                        text="OANDA : XAUUSD : 15", showarrow=False,
                        font=dict(family=FONT, size=14, color="#4a82e0")))
annotations.append(dict(xref="paper", yref="paper", x=px(1172), y=py(17), xanchor="left", yanchor="middle",
                        text="USD", showarrow=False, font=dict(family=FONT, size=5, color="#333"),
                        bgcolor="#ffffff", bordercolor="#d0d0d8", borderwidth=1, borderpad=2))
annotations.append(dict(xref="paper", yref="y", x=px(1169), y=closes[-1], xanchor="left", yanchor="middle",
                        text="09:13", showarrow=False, font=dict(family=FONT, size=5.5, color="#ffffff"),
                        bgcolor="#f23645", borderpad=1))
label_cols = ["#f23645", "#2962ff", "#9c27b0", "#43a047", "#43a047"]
label_y = [52.6, 46.5, 36.0, 28.9, 22.8]
for k in range(len(last_values)):
    annotations.append(dict(xref="paper", yref="y2", x=px(1169), y=label_y[k], xanchor="left", yanchor="middle",
                            text=last_values[k], showarrow=False,
                            font=dict(family=FONT, size=5.5, color="#ffffff"),
                            bgcolor=label_cols[k], borderpad=1))
annotations.append(dict(xref="paper", yref="paper", x=px(9), y=py(644), xanchor="left", yanchor="middle",
                        text="<b>𝟏𝟕</b> TradingView", showarrow=False,
                        font=dict(family=FONT, size=10, color="#f0f0f0")))

fig.update_layout(
    width=W, height=H, autosize=False,
    margin=dict(l=ML, r=MR, t=MT, b=MB, pad=0),
    paper_bgcolor=DARK, plot_bgcolor=BG,
    showlegend=False, hovermode=False,
    font=dict(family=FONT, size=6, color="#333"),
    xaxis=dict(domain=[0, 1], anchor="y2", range=[-5.0, 346.8], tickmode="array", tickvals=tick_idx,
               ticktext=tick_text, showgrid=False, zeroline=False, showline=False, ticks="",
               ticklabelstandoff=3,
               tickfont=dict(family=FONT, size=6, color="#333"), rangeslider=dict(visible=False),
               fixedrange=True),
    yaxis=dict(domain=[py(468), 1], anchor="x", side="right", range=[4701.06, 4916.46],
               tickmode="array", tickvals=price_ticks,
               tickformat=",.3f", showgrid=False, zeroline=False, showline=False, ticks="",
               tickfont=dict(family=FONT, size=5.2, color="#333"), fixedrange=True),
    yaxis2=dict(domain=[0, py(470)], anchor="x", side="right", range=[-63.2, 67.5],
                tickmode="array", tickvals=osc_ticks, ticktext=["%.3f" % v for v in osc_ticks],
                showgrid=False, zeroline=False, showline=False, ticks="",
                tickfont=dict(family=FONT, size=5.2, color="#333"), fixedrange=True),
    shapes=shapes, annotations=annotations,
)

fig.write_html("out.html", config={"displayModeBar": False},
               post_script="document.body.style.margin='0px';document.body.style.background='#1f1f1f';")
